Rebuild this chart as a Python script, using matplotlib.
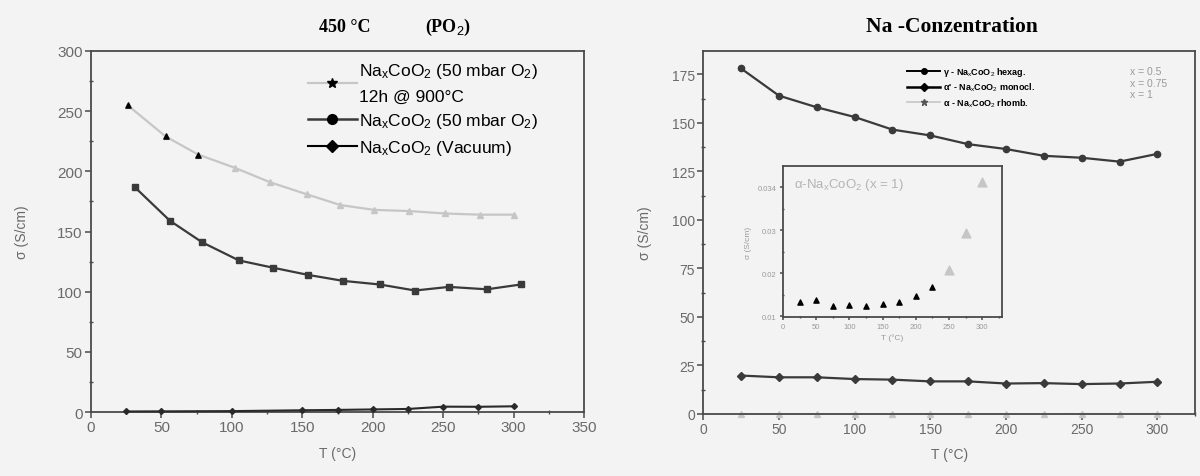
import matplotlib
matplotlib.use("Agg")
import matplotlib.pyplot as plt
from matplotlib.lines import Line2D
from matplotlib.ticker import MultipleLocator

# left panel: 450 C, oxygen partial pressure
T_900 = [26, 53, 76, 102, 127, 153, 177, 201, 226, 251, 276, 300]
sig_900 = [255, 229, 214, 203, 191, 181, 172, 168, 167, 165, 164, 164]
T_50 = [31, 56, 79, 105, 129, 154, 179, 205, 230, 254, 281, 305]
sig_50 = [187, 159, 141, 126, 120, 114, 109, 106, 101, 104, 102, 106]
T_vac = [25, 50, 100, 150, 175, 200, 225, 250, 275, 300]
sig_vac = [0.5, 0.6, 0.8, 1.5, 1.8, 2.2, 2.6, 4.5, 4.4, 4.8]

# right panel: Na concentration
T_na = [25, 50, 75, 100, 125, 150, 175, 200, 225, 250, 275, 300]
sig_hex = [178, 164, 158, 153, 146.5, 143.5, 139, 136.5, 133, 132, 130, 134]
sig_mono = [19.8, 18.9, 18.9, 18.0, 17.7, 16.8, 16.8, 15.7, 15.9, 15.4, 15.7, 16.6]
sig_rhomb = [0.0133, 0.0137, 0.0123, 0.0126, 0.0123, 0.0129, 0.0134, 0.0148,
             0.0168, 0.0207, 0.0293, 0.0412]

left_labels = ["Na$_x$CoO$_2$ (50 mbar O$_2$)\n12h @ 900°C",
               "Na$_x$CoO$_2$ (50 mbar O$_2$)",
               "Na$_x$CoO$_2$ (Vacuum)"]
right_labels = ["γ - Na$_x$CoO$_2$ hexag.",
                "α' - Na$_x$CoO$_2$ monocl.",
                "α - Na$_x$CoO$_2$ rhomb."]
x_labels = ["x = 0.5", "x = 0.75", "x = 1"]

bg = "#f3f3f3"
light = "#c6c6c6"
dark = "#3a3a3a"
tickcol = "#6a6a6a"

plt.rcParams["font.family"] = ["Liberation Sans", "DejaVu Sans"]
plt.rcParams["mathtext.fontset"] = "custom"
plt.rcParams["mathtext.rm"] = "Liberation Sans"
plt.rcParams["mathtext.it"] = "Liberation Sans"
plt.rcParams["mathtext.bf"] = "Liberation Sans:bold"

fig = plt.figure(figsize=(12, 4.77), dpi=100, facecolor=bg)
serif = ["Liberation Serif", "DejaVu Serif"]


def style_axes(ax, size, col=tickcol):
    ax.set_facecolor(bg)
    for s in ax.spines.values():
        s.set_color("#4a4a4a")
        s.set_linewidth(1.3)
    ax.tick_params(which="major", direction="out", length=4, width=1.1,
                   color="#4a4a4a", labelsize=size, labelcolor=col, pad=2)
    ax.tick_params(which="minor", direction="inout", length=3, width=1,
                   color="#4a4a4a")


# ---- left panel ----
ax1 = fig.add_axes([0.0758, 0.134, 0.411, 0.757])
style_axes(ax1, 11)
ax1.plot(T_900, sig_900, color=light, lw=1.6, marker="^", ms=5,
         mfc=light, mec=light)
ax1.scatter(T_900[:3], sig_900[:3], marker="^", s=14, color="black", zorder=4)
ax1.plot(T_50, sig_50, color=dark, lw=1.6, marker="s", ms=4.5, mfc=dark, mec=dark)
ax1.plot(T_vac, sig_vac, color="#2a2a2a", lw=1.5, marker="D", ms=3,
         clip_on=False, zorder=5)
ax1.set_xlim(0, 350)
ax1.set_ylim(0, 300)
ax1.xaxis.set_major_locator(MultipleLocator(50))
ax1.xaxis.set_minor_locator(MultipleLocator(25))
ax1.yaxis.set_major_locator(MultipleLocator(50))
ax1.yaxis.set_minor_locator(MultipleLocator(25))
ax1.set_xlabel("T (°C)", fontsize=10, color=tickcol, labelpad=8)
ax1.set_ylabel("σ (S/cm)", fontsize=10, color=tickcol, labelpad=20)

h1 = [Line2D([], [], color=light, lw=1.6, marker="*", ms=7, mfc="black", mec="black"),
      Line2D([], [], color=dark, lw=1.8, marker="o", ms=7, mfc="black", mec="black"),
      Line2D([], [], color="black", lw=1.5, marker="D", ms=6, mfc="black", mec="black")]
leg1 = ax1.legend(h1, left_labels, loc="upper left", bbox_to_anchor=(0.44, 0.972),
                  frameon=False, fontsize=12.5, handlelength=2.8, handletextpad=0.15,
                  borderaxespad=0, borderpad=0, labelspacing=0.42)
for t in leg1.get_texts():
    t.set_linespacing(1.75)

fig.text(0.266, 0.943, "450 °C", family=serif, fontsize=13, weight="bold",
         ha="left", va="center")
fig.text(0.354, 0.943, "(PO$_2$)", family=serif, fontsize=13, weight="bold",
         ha="left", va="center")

# ---- right panel ----
ax2 = fig.add_axes([0.586, 0.130, 0.41, 0.761])
style_axes(ax2, 10)
ax2.plot(T_na, sig_hex, color=dark, lw=1.6, marker="o", ms=4.5, mfc=dark, mec=dark)
ax2.plot(T_na, sig_mono, color=dark, lw=1.6, marker="D", ms=4, mfc=dark, mec=dark)
ax2.plot(T_na, sig_rhomb, color=light, lw=1.4, marker="^", ms=5, mfc=light,
         mec=light, clip_on=False)
ax2.set_xlim(0, 325)
ax2.set_ylim(0, 187)
ax2.xaxis.set_major_locator(MultipleLocator(50))
ax2.xaxis.set_minor_locator(MultipleLocator(25))
ax2.yaxis.set_major_locator(MultipleLocator(25))
ax2.yaxis.set_minor_locator(MultipleLocator(12.5))
ax2.set_xlabel("T (°C)", fontsize=10, color=tickcol, labelpad=8)
ax2.set_ylabel("σ (S/cm)", fontsize=10, color=tickcol, labelpad=14)

h2 = [Line2D([], [], color="black", lw=1.4, marker="o", ms=4, mfc="black"),
      Line2D([], [], color="black", lw=1.8, marker="D", ms=4.5, mfc="black"),
      Line2D([], [], color=light, lw=1.2, marker="*", ms=5, mfc="#555", mec="#555")]
ax2.legend(h2, right_labels, loc="upper left", bbox_to_anchor=(0.415, 0.962),
           frameon=False, prop={"size": 6.5, "weight": "bold"}, handlelength=3.6,
           handletextpad=0.3, borderaxespad=0, borderpad=0, labelspacing=0.35)
for i, lab in enumerate(x_labels):
    ax2.text(0.868, 0.945 - i * 0.032, lab, transform=ax2.transAxes,
             fontsize=7.5, color="#9a9a9a", va="center")

fig.text(0.722, 0.943, "Na -Conzentration", family=serif, fontsize=15.5,
         weight="bold", ha="left", va="center")

# ---- inset ----
ax3 = fig.add_axes([0.6525, 0.3333, 0.1825, 0.3166])
style_axes(ax3, 5.5, col="#9a9a9a")
ax3.tick_params(which="major", length=2.5)
ax3.tick_params(which="minor", length=2)
ax3.scatter(T_na[:9], sig_rhomb[:9], marker="^", s=14, color="black", zorder=3)
ax3.scatter(T_na[9:], sig_rhomb[9:], marker="^", s=40, color=light, zorder=3)
ax3.set_xlim(0, 330)
ax3.set_ylim(0.0098, 0.0449)
ax3.xaxis.set_major_locator(MultipleLocator(50))
ax3.xaxis.set_minor_locator(MultipleLocator(25))
ax3.yaxis.set_minor_locator(MultipleLocator(0.005))
ax3.set_yticks([0.01, 0.02, 0.03, 0.04])
ax3.set_yticklabels(["0.01", "0.02", "0.03", "0.034"])
ax3.set_xlabel("T (°C)", fontsize=6, color="#9a9a9a", labelpad=2)
ax3.set_ylabel("σ (S/cm)", fontsize=6, color="#9a9a9a", labelpad=4)
ax3.text(0.05, 0.86, "α-Na$_x$CoO$_2$ (x = 1)", transform=ax3.transAxes,
         fontsize=9.5, color="#b4b4b4")

fig.savefig("out.png", dpi=100, facecolor=bg)
